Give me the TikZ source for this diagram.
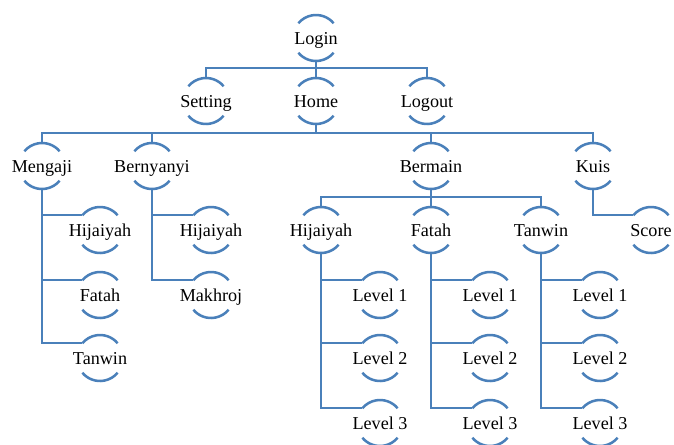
\documentclass[tikz,border=0pt]{standalone}
\usepackage{fontspec}
\setmainfont{Liberation Serif}
\definecolor{linkblue}{HTML}{4A80BA}
\tikzset{
  x=0.75pt, y=0.75pt,
  link/.style={draw=linkblue, line width=1.9pt, line join=miter},
  caption/.style={font=\fontsize{13.6}{16}\selectfont, inner sep=0pt,
                  text height=10pt, text depth=2pt}
}
% bubble radius (23 units)
\def\R{17.25pt}
% a label with an arc above and below it, plus anchor coordinates
% #1 name, #2 position, #3 text
\newcommand\bubble[3]{%
  \node[caption] (#1) at ([yshift=-0.6pt]#2) {#3};
  \coordinate (#1-c) at (#2);
  \coordinate (#1-t) at ([yshift=\R]#1-c);
  \coordinate (#1-b) at ([yshift=-\R]#1-c);
  \coordinate (#1-l) at ([shift={(140:\R)}]#1-c);
  \draw[link] ([shift={(40:\R)}]#1-c) arc[start angle=40, end angle=140, radius=\R];
  \draw[link] ([shift={(220:\R)}]#1-c) arc[start angle=220, end angle=320, radius=\R];
}
\begin{document}
\begin{tikzpicture}
\useasboundingbox (0,0) rectangle (674,-444);

% top levels
\bubble{login}{316,-38}{Login}
\bubble{setting}{206,-101}{Setting}
\bubble{home}{316,-101}{Home}
\bubble{logout}{427,-101}{Logout}

\bubble{mengaji}{42,-166}{Mengaji}
\bubble{bernyanyi}{152,-166}{Bernyanyi}
\bubble{bermain}{431,-166}{Bermain}
\bubble{kuis}{593,-166}{Kuis}

% Mengaji
\bubble{mhij}{100,-230}{Hijaiyah}
\bubble{mfat}{100,-295}{Fatah}
\bubble{mtan}{100,-358}{Tanwin}

% Bernyanyi
\bubble{bhij}{211,-230}{Hijaiyah}
\bubble{bmak}{211,-295}{Makhroj}

% Bermain
\bubble{ghij}{321,-230}{Hijaiyah}
\bubble{gfat}{431,-230}{Fatah}
\bubble{gtan}{541,-230}{Tanwin}

\bubble{h1}{380,-295}{Level 1}
\bubble{h2}{380,-358}{Level 2}
\bubble{h3}{380,-423}{Level 3}
\bubble{f1}{490,-295}{Level 1}
\bubble{f2}{490,-358}{Level 2}
\bubble{f3}{490,-423}{Level 3}
\bubble{t1}{600,-295}{Level 1}
\bubble{t2}{600,-358}{Level 2}
\bubble{t3}{600,-423}{Level 3}

% Kuis
\bubble{score}{651,-230}{Score}

% Login -> Setting / Home / Logout
\draw[link] (login-b) -- (home-t);
\draw[link] (setting-t) -- (setting-t |- 0,-68) -- (logout-t |- 0,-68) -- (logout-t);

% Home -> menu
\draw[link] (home-b) -- (home-b |- 0,-133);
\draw[link] (mengaji-t) -- (mengaji-t |- 0,-133) -- (kuis-t |- 0,-133) -- (kuis-t);
\draw[link] (bernyanyi-t) -- (bernyanyi-t |- 0,-133);
\draw[link] (bermain-t) -- (bermain-t |- 0,-133);

% Bermain -> games
\draw[link] (bermain-b) -- (gfat-t);
\draw[link] (ghij-t) -- (ghij-t |- 0,-197) -- (gtan-t |- 0,-197) -- (gtan-t);

% side branches
\draw[link] (mengaji-b) |- (mtan-l);
\draw[link] (mengaji-b |- mhij-l) -- (mhij-l);
\draw[link] (mengaji-b |- mfat-l) -- (mfat-l);

\draw[link] (bernyanyi-b) |- (bmak-l);
\draw[link] (bernyanyi-b |- bhij-l) -- (bhij-l);

\draw[link] (ghij-b) |- (h3-l);
\draw[link] (ghij-b |- h1-l) -- (h1-l);
\draw[link] (ghij-b |- h2-l) -- (h2-l);

\draw[link] (gfat-b) |- (f3-l);
\draw[link] (gfat-b |- f1-l) -- (f1-l);
\draw[link] (gfat-b |- f2-l) -- (f2-l);

\draw[link] (gtan-b) |- (t3-l);
\draw[link] (gtan-b |- t1-l) -- (t1-l);
\draw[link] (gtan-b |- t2-l) -- (t2-l);

\draw[link] (kuis-b) |- (score-l);
\end{tikzpicture}
\end{document}
